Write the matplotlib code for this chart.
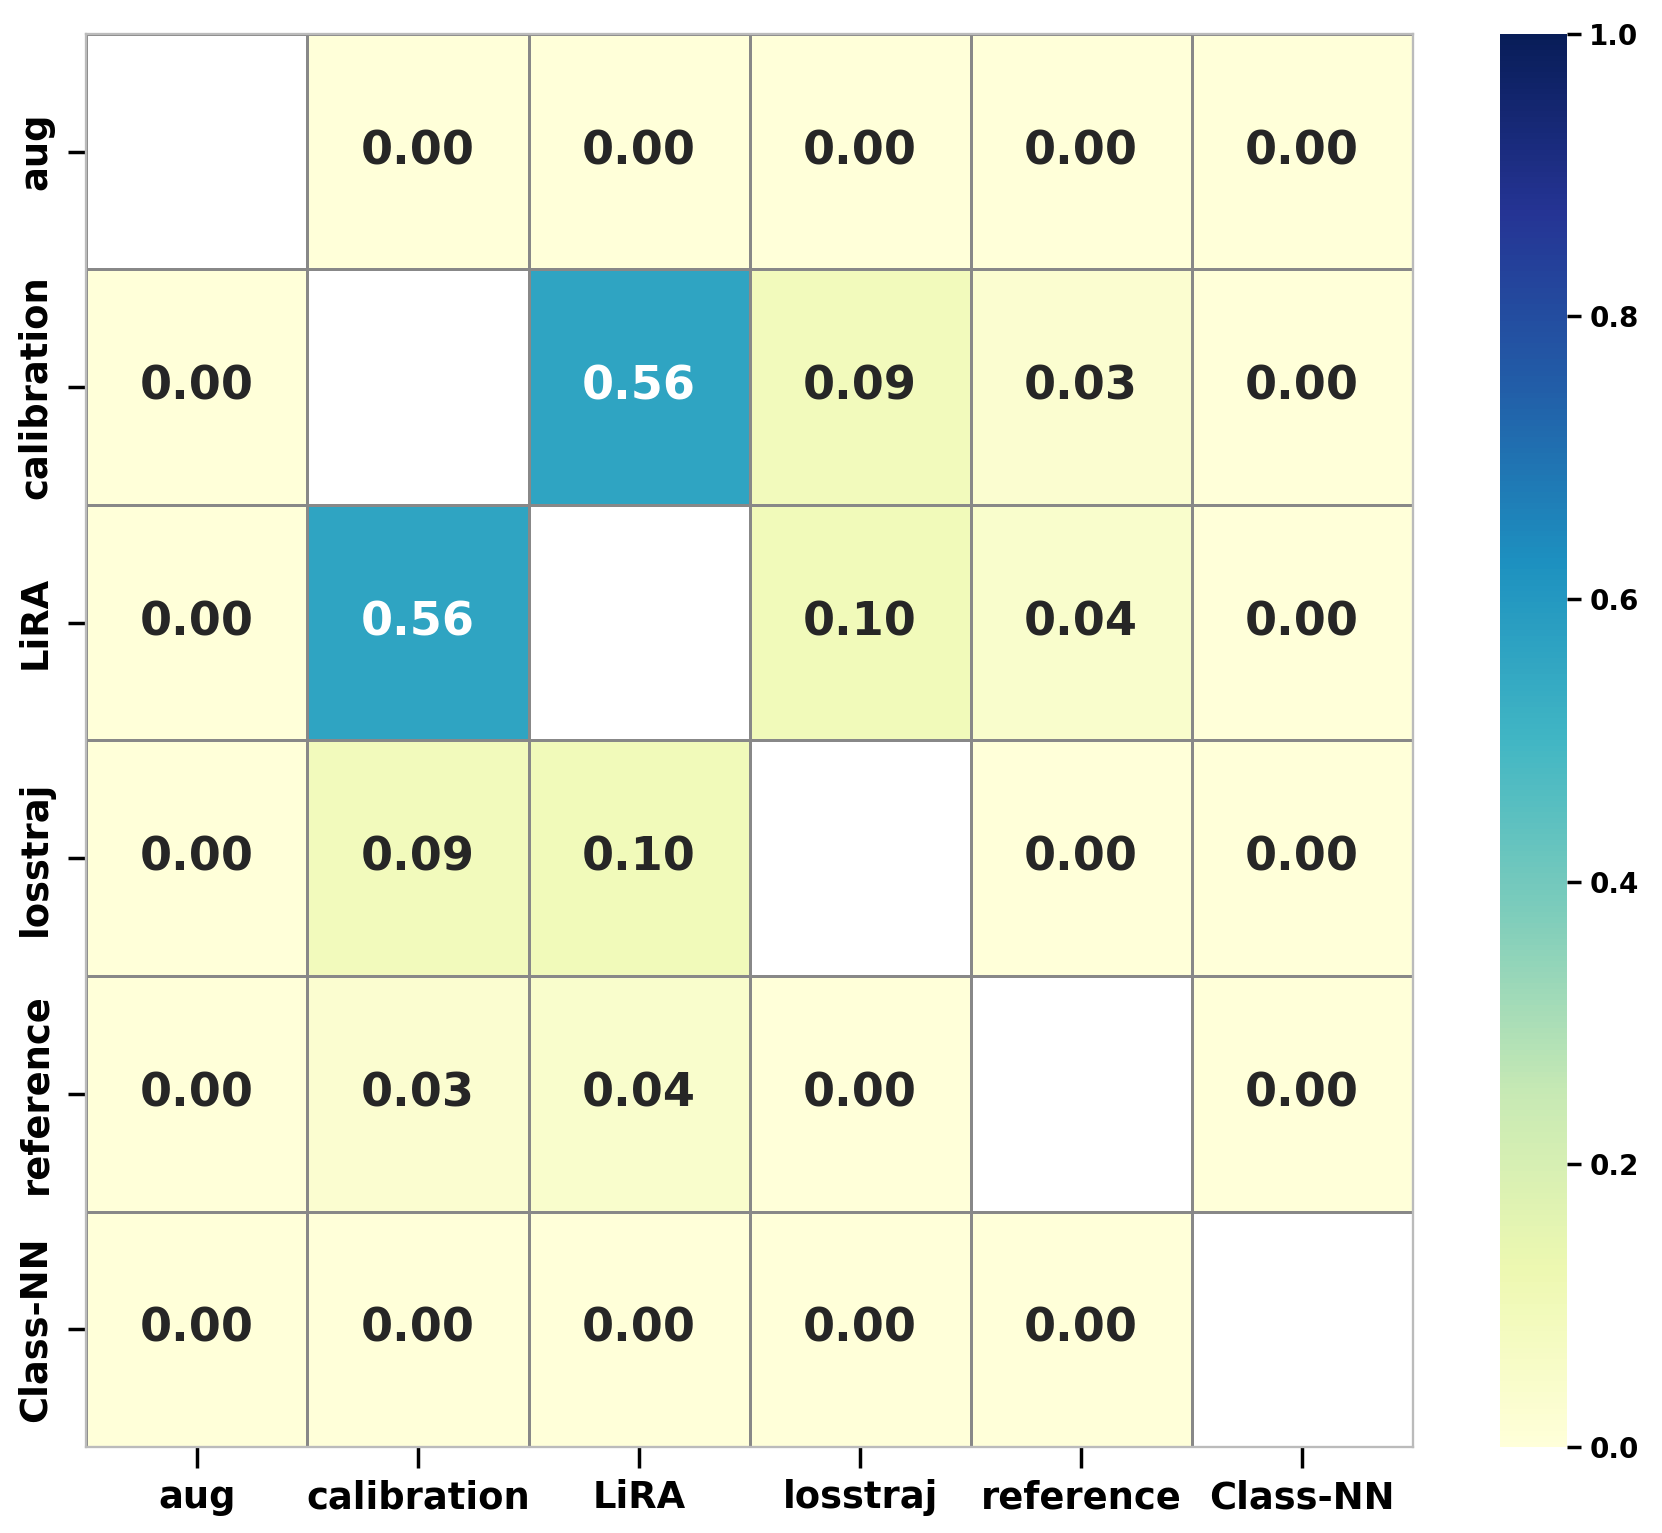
import numpy as np
import matplotlib
matplotlib.use("Agg")
import matplotlib.pyplot as plt
import seaborn as sns

labels = ["aug", "calibration", "LiRA", "losstraj", "reference", "Class-NN"]
values = np.array([
    [np.nan, 0.00, 0.00, 0.00, 0.00, 0.00],
    [0.00, np.nan, 0.56, 0.09, 0.03, 0.00],
    [0.00, 0.56, np.nan, 0.10, 0.04, 0.00],
    [0.00, 0.09, 0.10, np.nan, 0.00, 0.00],
    [0.00, 0.03, 0.04, 0.00, np.nan, 0.00],
    [0.00, 0.00, 0.00, 0.00, 0.00, np.nan],
])

dpi = 166.2
fig = plt.figure(figsize=(1662 / dpi, 1533 / dpi), dpi=dpi)
ax = fig.add_axes([0.052, 0.056, 0.798, 0.922])
cax = fig.add_axes([0.9025, 0.056, 0.0405, 0.922])

sns.heatmap(values, ax=ax, cbar_ax=cax, cmap="YlGnBu", vmin=0, vmax=1,
            annot=True, fmt=".2f", annot_kws={"fontsize": 20, "fontweight": "bold"},
            linewidths=0.6, linecolor="#888888",
            xticklabels=labels, yticklabels=labels)

for s in ax.spines.values():
    s.set_visible(True)
    s.set_color("#bbbbbb")
    s.set_linewidth(1)

ax.tick_params(axis="both", length=8, width=1.5, pad=6)
ax.tick_params(axis="x", length=9, pad=5)
plt.setp(ax.get_xticklabels(), fontsize=16, fontweight="bold", rotation=0)
plt.setp(ax.get_yticklabels(), fontsize=16, fontweight="bold", rotation=90, va="center")

cax.tick_params(length=6, width=1.5, labelsize=12)
cax.set_yticks([0, 0.2, 0.4, 0.6, 0.8, 1.0])
for t in cax.get_yticklabels():
    t.set_fontweight("bold")

fig.savefig("out.png", dpi=dpi)
